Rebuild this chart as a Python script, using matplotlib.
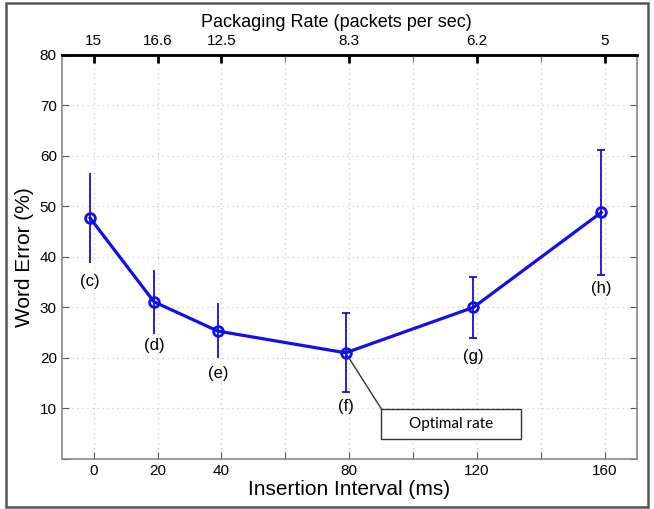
import matplotlib
matplotlib.use("Agg")
import matplotlib.pyplot as plt
from matplotlib.patches import Rectangle

plt.rcParams['font.family'] = ['Liberation Sans', 'DejaVu Sans']

# Data
intervals = [0, 20, 40, 80, 120, 160]
word_error = [47.7, 31.1, 25.3, 21.0, 30.0, 48.8]
err_low = [38.8, 24.8, 20.0, 13.2, 23.9, 36.4]
err_high = [56.7, 37.5, 30.8, 28.8, 36.1, 61.1]
point_labels = ['(c)', '(d)', '(e)', '(f)', '(g)', '(h)']
label_y = [35.2, 22.4, 16.9, 10.3, 20.2, 33.8]
rate_labels = ['15', '16.6', '12.5', '8.3', '6.2', '5']
capped = [False, False, False, True, True, True]
annot_text = 'Optimal rate'

fig = plt.figure(figsize=(6.54, 5.09), dpi=100)
ax = fig.add_axes([0.0943, 0.0986, 0.8792, 0.7934])

xs = [x - 1.1 for x in intervals]
lo = [w - l for w, l in zip(word_error, err_low)]
hi = [h - w for w, h in zip(word_error, err_high)]

blue = '#1010e8'
ax.plot(xs, word_error, color=blue, lw=2.3, zorder=3)
for i in range(len(xs)):
    ax.errorbar([xs[i]], [word_error[i]], yerr=[[lo[i]], [hi[i]]], fmt='none',
                ecolor=blue, elinewidth=1.3, capsize=3 if capped[i] else 0,
                capthick=1.3, zorder=3)
ax.plot(xs, word_error, 'o', ms=7, mfc='none', mec=blue, mew=2, zorder=4)

for x, y, t in zip(xs, label_y, point_labels):
    ax.text(x, y, t, ha='center', va='center', fontsize=12, color='black')

ax.set_xlim(-10, 170)
ax.set_ylim(0, 80)
ax.set_xticks(range(0, 161, 20))
ax.set_xticklabels(['0', '20', '40', '', '80', '', '120', '', '160'])
ax.set_yticks(range(0, 81, 10))
ax.set_yticklabels([''] + [str(v) for v in range(10, 81, 10)])
ax.tick_params(axis='both', direction='in', labelsize=11, length=5, color='#555555')
ax.tick_params(axis='y', right=True)
ax.grid(True, linestyle=(0, (1, 3)), color='#c8c8c8', lw=0.9)
ax.set_axisbelow(True)
for s in ['left', 'bottom', 'right']:
    ax.spines[s].set_color('#888888')
    ax.spines[s].set_linewidth(1.2)
ax.spines['top'].set_color('black')
ax.spines['top'].set_linewidth(1.8)

ax.set_xlabel('Insertion Interval (ms)', fontsize=15, labelpad=2)
ax.set_ylabel('Word Error (%)', fontsize=15, labelpad=4)

top = ax.twiny()
top.set_xlim(ax.get_xlim())
top.set_xticks(intervals)
top.set_xticklabels(rate_labels)
top.set_xticks([60, 100, 140], minor=True)
top.tick_params(axis='x', which='major', direction='in', length=6, width=2, labelsize=11, pad=5)
top.tick_params(axis='x', which='minor', direction='in', length=5, width=1, color='#888888')
top.set_xlabel('Packaging Rate (packets per sec)', fontsize=13, labelpad=5)
top.xaxis.label.set_x(0.477)
for s in ['left', 'bottom', 'right']:
    top.spines[s].set_visible(False)
top.spines['top'].set_color('black')
top.spines['top'].set_linewidth(1.8)

# Annotation box (in data coords)
bx0, bx1, by0, by1 = 90.1, 133.7, 3.86, 9.86
ax.add_patch(Rectangle((bx0, by0), bx1 - bx0, by1 - by0, fc='white', ec='#333333',
                       lw=1, zorder=5))
ax.text((bx0 + bx1) / 2, (by0 + by1) / 2, annot_text, ha='center', va='center',
        fontsize=11, family=['Lato', 'DejaVu Sans'], zorder=6)
ax.plot([xs[3], bx0], [word_error[3], by1], color='#333333', lw=1, zorder=2.5)

fig.patches.append(Rectangle((0.009, 0.003), 0.982, 0.992, transform=fig.transFigure,
                             fill=False, ec='#555555', lw=1.8))

fig.savefig('out.png', dpi=100)
